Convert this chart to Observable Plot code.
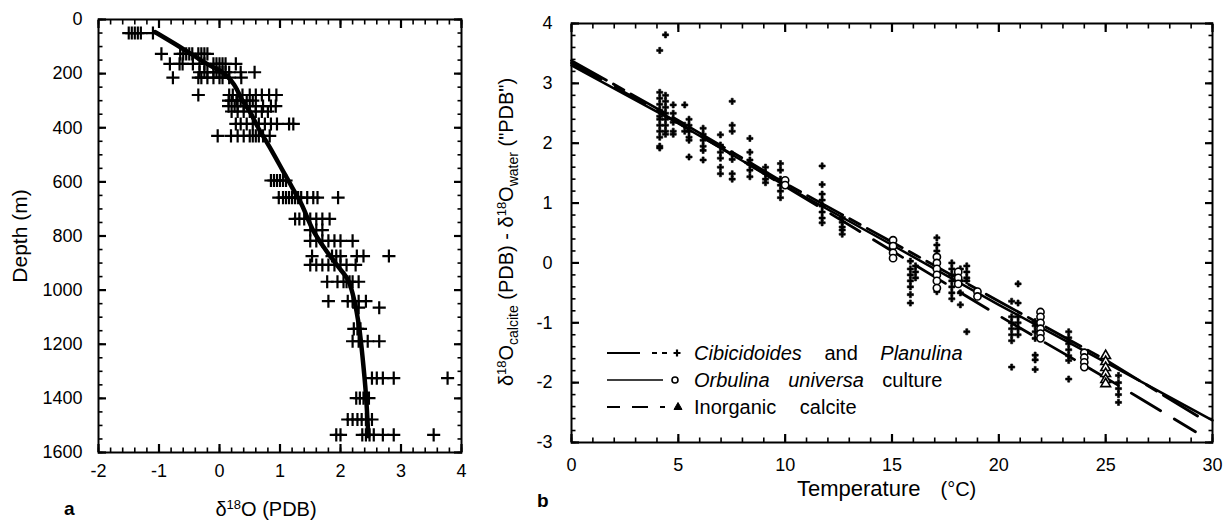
<!DOCTYPE html>
<html><head><meta charset="utf-8">
<script src="https://cdn.jsdelivr.net/npm/d3@7"></script>
<script src="https://cdn.jsdelivr.net/npm/@observablehq/plot@0.6"></script>
<style>
body{margin:0;background:#fff;}
#wrap{position:relative;width:1228px;height:522px;font-family:"Liberation Sans",Arial,Helvetica,sans-serif;color:#000;overflow:hidden;background:#fff}
#pa{position:absolute;left:0;top:0}
#pb{position:absolute;left:480px;top:0}
.lbl{position:absolute;white-space:nowrap;font-size:20px;line-height:20px}
.lbl sup{font-size:13px;vertical-align:7px;line-height:0}
.lbl sub{font-size:14px;vertical-align:-5px;line-height:0}
.rot{transform:translate(-50%,-50%) rotate(-90deg)}
.leg{position:absolute;left:605px;height:20px;white-space:nowrap;font-size:20px;line-height:20px}
.leg svg{position:absolute;left:0;top:0}
.leg span.t{position:absolute;left:89px;top:0}
</style></head><body>
<div id="wrap">
  <div id="pa"></div>
  <div id="pb"></div>
  <div class="lbl rot" style="left:20px;top:236px;font-size:21px">Depth (m)</div>
  <div class="lbl" style="left:266px;top:499px;transform:translateX(-50%)">&delta;<sup>18</sup>O (PDB)</div>
  <div class="lbl" style="left:64px;top:499px;font-weight:bold;font-size:19px">a</div>
  <div class="lbl rot" style="left:506px;top:232px">&delta;<sup>18</sup>O<sub>calcite</sub> (PDB) - &delta;<sup>18</sup>O<sub>water</sub> ("PDB")</div>
  <div class="lbl" style="left:797px;top:478px;font-size:22px;line-height:22px">Temperature<span style="margin-left:20px;font-size:20px">(&deg;C)</span></div>
  <div class="lbl" style="left:537px;top:491px;font-weight:bold;font-size:19px">b</div>
  <div id="legend"></div>
</div>
<script>
// ---------- Panel a : delta18O vs depth ----------
const xTicksA = [-2, -1, 0, 1, 2, 3, 4];
const yTicksA = [0, 200, 400, 600, 800, 1000, 1200, 1400, 1600];

const depthLevelsA = [50, 127, 164, 195, 215, 279, 300, 320, 340, 386, 430, 595, 658, 737, 778, 818, 874, 907, 969, 1041, 1065, 1143, 1189, 1325, 1399, 1478, 1535];
const d18OAtLevelA = [
  [-1.5, -1.45, -1.4, -1.35, -1.3, -1.1],
  [-0.96, -0.65, -0.6, -0.55, -0.5, -0.45, -0.35, -0.3, -0.25, -0.2],
  [-0.82, -0.66, -0.61, -0.44, -0.33, -0.25, -0.1, -0.05, 0, 0.05, 0.1, 0.27],
  [-0.33, -0.25, -0.2, -0.1, -0.05, 0, 0.05, 0.1, 0.16, 0.35, 0.58],
  [-0.77, -0.35, -0.3, -0.2, -0.1, 0, 0.05, 0.16, 0.36],
  [-0.35, 0.16, 0.22, 0.3, 0.38, 0.5, 0.6, 0.7, 0.82, 0.94],
  [0.15, 0.2, 0.28, 0.35, 0.45, 0.55],
  [0.15, 0.25, 0.3, 0.4, 0.5, 0.6, 0.72, 0.85, 0.93],
  [0.2, 0.3, 0.4, 0.5, 0.6, 0.7, 0.8],
  [0.27, 0.35, 0.45, 0.55, 0.65, 0.75, 0.85, 0.95, 1.15, 1.22],
  [-0.03, 0.19, 0.3, 0.4, 0.5, 0.55, 0.6, 0.65, 0.72, 0.83],
  [0.85, 0.9, 0.95, 1.0, 1.05, 1.1],
  [0.98, 1.05, 1.1, 1.15, 1.2, 1.25, 1.3, 1.35, 1.45, 1.55, 1.62, 1.96],
  [1.25, 1.32, 1.4, 1.5, 1.6, 1.7, 1.82],
  [1.5, 1.6, 1.7],
  [1.5, 1.6, 1.7, 1.8, 1.9, 2.0, 2.2],
  [1.53, 1.86, 1.93, 2.0, 2.27, 2.38, 2.8],
  [1.5, 1.6, 1.7, 1.8, 1.9, 2.0, 2.1, 2.25],
  [1.78, 1.95, 2.05, 2.1, 2.15, 2.2, 2.3],
  [1.8, 2.12, 2.2, 2.3, 2.42],
  [2.3, 2.64],
  [2.22, 2.28, 2.33],
  [2.2, 2.3, 2.45, 2.64],
  [2.52, 2.6, 2.7, 2.88, 3.77],
  [2.26, 2.32, 2.38, 2.47],
  [2.12, 2.2, 2.28, 2.35, 2.42, 2.52],
  [1.93, 2.0, 2.36, 2.42, 2.48, 2.55, 2.7, 2.88, 3.54]
];
const curveDepthA = [47, 95, 130, 165, 200, 240, 300, 340, 400, 480, 560, 620, 680, 780, 850, 910, 965, 1040, 1140, 1260, 1385, 1540];
const curveD18OA  = [-1.06, -0.7, -0.45, -0.2, 0.08, 0.24, 0.38, 0.5, 0.64, 0.85, 1.05, 1.2, 1.35, 1.55, 1.75, 1.95, 2.13, 2.23, 2.31, 2.37, 2.42, 2.46];

// ---------- Panel b : calibration ----------
const xTicksB = [0, 5, 10, 15, 20, 25, 30];
const yTicksB = [-3, -2, -1, 0, 1, 2, 3, 4];

const cibTemps = [4.13, 4.4, 4.76, 5.3, 5.5, 6.16, 6.97, 7.52, 8.35, 9.08, 9.78, 11.73, 12.67, 15.86, 16.1, 17.1, 17.8, 18.2, 18.5, 20.6, 20.9, 21.7, 23.27, 25.6];
const cibValues = [
  [3.55, 2.85, 2.75, 2.65, 2.55, 2.45, 2.4, 2.3, 2.2, 2.1, 1.95, 1.92],
  [3.81, 2.8, 2.7, 2.6, 2.5, 2.4, 2.3, 2.2, 2.15],
  [2.64, 2.5, 2.35, 2.2, 2.15],
  [2.64, 2.3, 2.2],
  [2.4, 2.3, 2.2, 2.1, 2.05, 1.77],
  [2.25, 2.15, 2.05, 1.95, 1.88, 1.72],
  [2.14, 1.97, 1.85, 1.75, 1.6, 1.49],
  [2.7, 2.3, 2.2, 1.82, 1.73, 1.49, 1.4],
  [2.08, 1.85, 1.72, 1.65, 1.55, 1.44],
  [1.6, 1.5, 1.4, 1.34],
  [1.66, 1.55, 1.4, 1.3, 1.2, 1.09],
  [1.62, 1.31, 1.15, 1.05, 0.95, 0.85, 0.75, 0.67],
  [0.76, 0.68, 0.6, 0.55, 0.48],
  [0.03, -0.1, -0.2, -0.3, -0.4, -0.53, -0.67],
  [-0.05, -0.15, -0.25],
  [0.42, 0.3, 0.2, 0.1, 0.0, -0.2, -0.3, -0.4, -0.48],
  [0.0, -0.1, -0.2, -0.3, -0.4, -0.5, -0.6],
  [-0.1, -0.3, -0.5, -0.7],
  [-0.05, -0.15, -0.25, -0.3, -1.15],
  [-0.64, -0.9, -1.0, -1.1, -1.2, -1.3, -1.74],
  [-0.35, -0.67, -0.9, -1.0, -1.1, -1.2],
  [-0.98, -1.05, -1.15, -1.26, -1.54, -1.62, -1.78],
  [-1.15, -1.25, -1.35, -1.45, -1.55, -1.63, -1.94],
  [-1.88, -2.0, -2.1, -2.2, -2.33]
];
const orbTemps = [10.0, 15.05, 17.1, 18.1, 19.0, 21.95, 24.0];
const orbValues = [
  [1.38, 1.3],
  [0.38, 0.28, 0.17, 0.08],
  [0.1, 0.0, -0.1, -0.2, -0.3, -0.42],
  [-0.15, -0.25, -0.35],
  [-0.48, -0.56],
  [-0.82, -0.9, -1.0, -1.1, -1.18, -1.26],
  [-1.5, -1.58, -1.66, -1.74]
];
const inorgTemps = [25.0];
const inorgValues = [[-1.55, -1.65, -1.75, -1.85, -1.95, -2.02]];

const cibLineT = [0, 5, 10, 15, 20, 25, 29.4];
const cibLineV = [3.38, 2.38, 1.33, 0.35, -0.64, -1.62, -2.58];
const orbLineT = [0, 5, 10, 15, 20, 25, 30];
const orbLineV = [3.30, 2.33, 1.29, 0.30, -0.70, -1.66, -2.63];
const inorgLineT = [0, 5, 10, 15, 20, 25, 29.2];
const inorgLineV = [3.34, 2.34, 1.28, 0.2, -0.88, -1.92, -2.82];

const legendLabels = [
  ["<i>Cibicidoides</i> and <i>Planulina</i>", 17],
  ["<i>Orbulina</i> <i>universa</i> culture", 13],
  ["Inorganic calcite", 18]
];

// ---------- build tables ----------
const ptsA = depthLevelsA.flatMap((d, i) => d18OAtLevelA[i].map(v => ({v, depth: d})));
const curveA = curveDepthA.map((d, i) => ({v: curveD18OA[i], depth: d}));
const flat = (ts, vs) => ts.flatMap((t, i) => vs[i].map(v => ({t, v})));
const cibPts = flat(cibTemps, cibValues);
const orbPts = flat(orbTemps, orbValues);
const inorgPts = flat(inorgTemps, inorgValues);
const toLine = (ts, vs) => ts.map((t, i) => ({t, v: vs[i]}));

const fmt = d => String(d);
const style = {fontFamily: "'Liberation Sans', Arial, sans-serif", fontSize: "18px", color: "#000", background: "transparent", overflow: "visible"};

// inward ticks on all four sides: Plot axis ticks shifted inward by their own length
function frameTicks(xMajor, xMinor, yMajor, yMinor) {
  const m = [];
  const add = (axis, data, anchor, size, sw) => {
    const shift = {bottom: {dy: -size}, top: {dy: size}, left: {dx: size}, right: {dx: -size}}[anchor];
    m.push(axis(data, {anchor, tickSize: size, fill: "none", stroke: "#000", strokeWidth: sw, label: null, ...shift}));
  };
  for (const a of ["bottom", "top"]) { add(Plot.axisX, xMinor, a, 4.5, 1.6); add(Plot.axisX, xMajor, a, 8, 2.2); }
  for (const a of ["left", "right"]) { add(Plot.axisY, yMinor, a, 4.5, 1.6); add(Plot.axisY, yMajor, a, 8, 2.2); }
  return m;
}

const xMinorA = d3.range(-20, 41, 2).map(d => d / 10);
const yMinorA = d3.range(0, 1601, 50);
const pa = Plot.plot({
  width: 480, height: 522,
  marginLeft: 98, marginRight: 19, marginTop: 19, marginBottom: 70,
  style,
  x: {domain: [-2, 4], label: null},
  y: {domain: [0, 1600], reverse: true, label: null},
  marks: [
    ...frameTicks(xTicksA, xMinorA, yTicksA, yMinorA),
    Plot.axisX(xTicksA, {anchor: "bottom", tickSize: 0, tickPadding: 12, tickFormat: fmt, label: null}),
    Plot.axisY(yTicksA, {anchor: "left", tickSize: 0, tickPadding: 16, tickFormat: fmt, label: null}),
    Plot.line(curveA, {x: "v", y: "depth", stroke: "#000", strokeWidth: 4.5, curve: "catmull-rom"}),
    Plot.dot(ptsA, {x: "v", y: "depth", symbol: "plus", r: 4.3, stroke: "#000", strokeWidth: 2.2}),
    Plot.frame({stroke: "#000", strokeWidth: 2})
  ]
});
document.getElementById("pa").append(pa);

const xMinorB = d3.range(0, 31, 1);
const yMinorB = d3.range(-30, 41, 2).map(d => d / 10);
const pb = Plot.plot({
  width: 748, height: 522,
  marginLeft: 91, marginRight: 16, marginTop: 23, marginBottom: 80,
  style,
  x: {domain: [0, 30], label: null},
  y: {domain: [-3, 4], label: null},
  marks: [
    ...frameTicks(xTicksB, xMinorB, yTicksB, yMinorB),
    Plot.axisX(xTicksB, {anchor: "bottom", tickSize: 0, tickPadding: 16, tickFormat: fmt, label: null}),
    Plot.axisY(yTicksB, {anchor: "left", tickSize: 0, tickPadding: 19, tickFormat: fmt, label: null}),
    Plot.line(toLine(orbLineT, orbLineV), {x: "t", y: "v", stroke: "#000", strokeWidth: 2.5}),
    Plot.line(toLine(cibLineT, cibLineV), {x: "t", y: "v", stroke: "#000", strokeWidth: 2.8, strokeDasharray: "40,8,12,8"}),
    Plot.line(toLine(inorgLineT, inorgLineV), {x: "t", y: "v", stroke: "#000", strokeWidth: 2.8, strokeDasharray: "34,16", curve: "catmull-rom"}),
    Plot.dot(cibPts, {x: "t", y: "v", symbol: "cross", r: 2.6, fill: "#000", stroke: "#000", strokeWidth: 0.6}),
    Plot.dot(orbPts, {x: "t", y: "v", symbol: "circle", r: 3.6, fill: "#fff", stroke: "#000", strokeWidth: 1.6}),
    Plot.dot(inorgPts, {x: "t", y: "v", symbol: "triangle", r: 3.6, fill: "#fff", stroke: "#000", strokeWidth: 1.6}),
    Plot.frame({stroke: "#000", strokeWidth: 2})
  ]
});
document.getElementById("pb").append(pb);

// ---------- legend ----------
const legSvgs = [
  `<line x1="2" y1="10" x2="35" y2="10"/><line x1="47" y1="10" x2="52" y2="10"/><line x1="57" y1="10" x2="62" y2="10"/><path d="M72,6.5V13.5M68.5,10H75.5" stroke-width="2.2"/>`,
  `<line x1="2" y1="10" x2="58" y2="10" stroke-width="1.5"/><circle cx="70" cy="10" r="3" fill="#fff" stroke-width="1.6"/>`,
  `<line x1="2" y1="10" x2="15" y2="10"/><line x1="27" y1="10" x2="43" y2="10"/><line x1="55" y1="10" x2="60" y2="10"/><path d="M73,5.5L77,12.5H69Z" fill="#000" stroke-width="1"/>`
];
const legTops = [343, 370, 397];
const legend = document.getElementById("legend");
legendLabels.forEach(([txt, ws], i) => {
  const d = document.createElement("div");
  d.className = "leg";
  d.style.top = legTops[i] + "px";
  d.innerHTML = `<svg width="85" height="20" stroke="#000" stroke-width="2" fill="none">${legSvgs[i]}</svg><span class="t" style="word-spacing:${ws}px">${txt}</span>`;
  legend.append(d);
});
</script>
</body></html>
